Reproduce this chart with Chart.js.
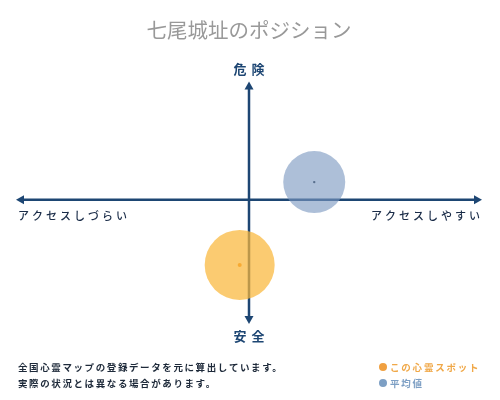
<!DOCTYPE html>
<html lang="ja">
<head>
  <meta charset="UTF-8">
  <title>七尾城址のポジション</title>
  <script src="https://cdn.jsdelivr.net/npm/chart.js"></script>
  <style>
    html, body { margin: 0; padding: 0; background: #fff; }
    #wrap { width: 500px; height: 400px; }
  </style>
</head>
<body>
  <div id="wrap"><canvas id="position-chart" width="500" height="400"></canvas></div>

  <script>
    // values (x: access ease, y: danger)
    const spotName = 'この心霊スポット';
    const averageName = '平均値';
    const spotPoint = [{ x: -0.04, y: -0.55 }];
    const averagePoint = [{ x: 0.28, y: 0.15 }];
    const axisLabels = { top: '危険', bottom: '安全', left: 'アクセスしづらい', right: 'アクセスしやすい' };
    const noteLines = ['全国心霊マップの登録データを元に算出しています。', '実際の状況とは異なる場合があります。'];

    const JP = '"Noto Sans CJK JP", "Noto Sans", sans-serif';
    const navy = '#1d4673';

    // axes with arrow heads + labels, legend and note
    const quadrantPlugin = {
      id: 'quadrant',
      beforeDatasetsDraw(chart) {
        const { ctx, chartArea: a, scales: { x, y } } = chart;
        const cx = x.getPixelForValue(0);
        const cy = y.getPixelForValue(0);
        ctx.save();
        ctx.strokeStyle = navy;
        ctx.fillStyle = navy;
        ctx.lineWidth = 2.5;
        ctx.beginPath();
        ctx.moveTo(a.left + 4, cy); ctx.lineTo(a.right - 4, cy);
        ctx.moveTo(cx, a.top + 4); ctx.lineTo(cx, a.bottom - 4);
        ctx.stroke();
        const head = (px, py, dx, dy) => {
          const s = 8, w = 4.5;
          ctx.beginPath();
          ctx.moveTo(px, py);
          ctx.lineTo(px - dx * s - dy * w, py - dy * s - dx * w);
          ctx.lineTo(px - dx * s + dy * w, py - dy * s + dx * w);
          ctx.closePath();
          ctx.fill();
        };
        head(a.left, cy, -1, 0);
        head(a.right, cy, 1, 0);
        head(cx, a.top, 0, -1);
        head(cx, a.bottom, 0, 1);
        ctx.restore();
      },
      afterDraw(chart) {
        const { ctx, chartArea: a, scales: { x, y } } = chart;
        const cx = x.getPixelForValue(0);
        const cy = y.getPixelForValue(0);
        ctx.save();
        ctx.textBaseline = 'middle';
        ctx.fillStyle = navy;
        ctx.font = 'bold 13px ' + JP;
        ctx.letterSpacing = '5px';
        ctx.textAlign = 'center';
        ctx.fillText(axisLabels.top, cx + 2.5, a.top - 13);
        ctx.fillText(axisLabels.bottom, cx + 2.5, a.bottom + 12);

        ctx.font = '500 11px ' + JP;
        ctx.letterSpacing = '3px';
        ctx.fillStyle = '#1a2c48';
        ctx.textAlign = 'left';
        ctx.fillText(axisLabels.left, a.left + 2, cy + 16);
        ctx.textAlign = 'right';
        ctx.fillText(axisLabels.right, a.right + 1, cy + 16);

        // note
        ctx.textAlign = 'left';
        ctx.font = 'bold 9.5px ' + JP;
        ctx.letterSpacing = '1.6px';
        ctx.fillStyle = '#1e2a3a';
        noteLines.forEach((t, i) => ctx.fillText(t, 18, 367 + i * 16));

        // legend
        const items = [
          { text: spotName, dot: '#f0a040', color: '#f0a848' },
          { text: averageName, dot: '#7d9fc4', color: '#7d9fc4' }
        ];
        ctx.font = 'bold 9.5px ' + JP;
        ctx.letterSpacing = '1.8px';
        items.forEach((it, i) => {
          const ty = 367 + i * 16;
          ctx.fillStyle = it.dot;
          ctx.beginPath();
          ctx.arc(383, ty, 4, 0, Math.PI * 2);
          ctx.fill();
          ctx.fillStyle = it.color;
          ctx.fillText(it.text, 390, ty);
        });
        ctx.restore();
      }
    };

    document.addEventListener('DOMContentLoaded', () => {
      const context = document.getElementById('position-chart').getContext('2d');
      new Chart(context, {
        type: 'scatter',
        data: {
          datasets: [
            {
              label: averageName,
              data: averagePoint,
              backgroundColor: 'rgba(122,152,192,0.62)',
              borderWidth: 0,
              pointRadius: 31,
              pointHoverRadius: 31
            },
            {
              label: spotName,
              data: spotPoint,
              backgroundColor: 'rgba(250,183,58,0.72)',
              borderWidth: 0,
              pointRadius: 35,
              pointHoverRadius: 35
            },
            {
              label: averageName + '中心',
              data: averagePoint,
              backgroundColor: '#1e2a3a',
              borderWidth: 0,
              pointRadius: 1.2
            },
            {
              label: spotName + '中心',
              data: spotPoint,
              backgroundColor: '#f08a20',
              borderWidth: 0,
              pointRadius: 2
            }
          ]
        },
        options: {
          responsive: false,
          animation: false,
          events: [],
          layout: { autoPadding: false, padding: { top: 0, left: 16, right: 18, bottom: 76 } },
          scales: {
            x: { display: false, min: -1, max: 1 },
            y: { display: false, min: -1.05, max: 1 }
          },
          plugins: {
            legend: { display: false },
            tooltip: { enabled: false },
            title: {
              display: true,
              text: '七尾城址のポジション',
              color: '#999999',
              font: { family: JP, size: 20.5, weight: 'normal', lineHeight: 1.2 },
              padding: { top: 18, bottom: 39 }
            }
          }
        },
        plugins: [quadrantPlugin]
      });
    });
  </script>
</body>
</html>
